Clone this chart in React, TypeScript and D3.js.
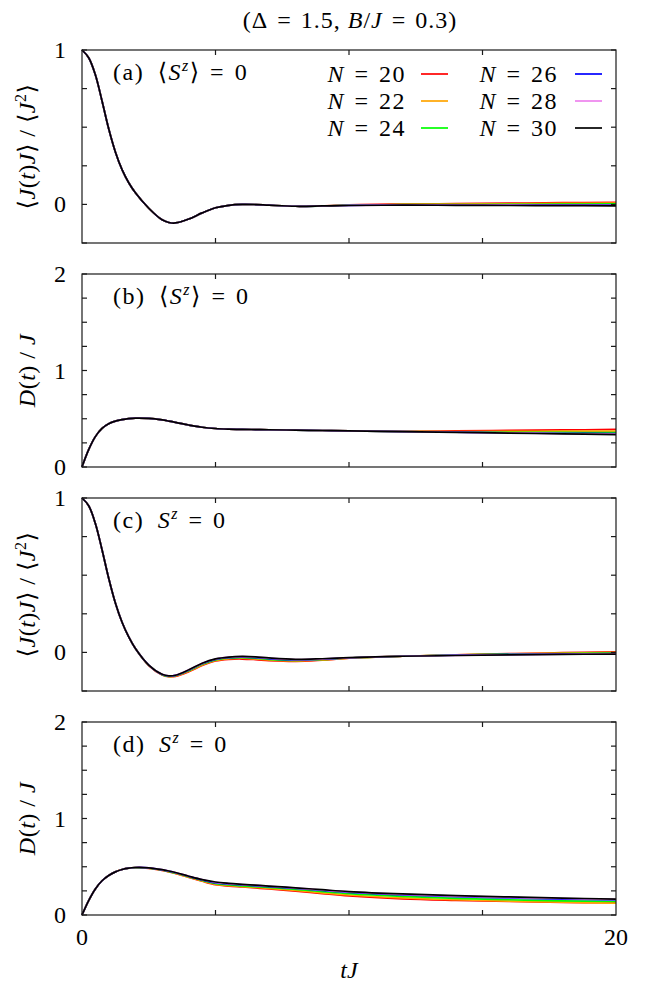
import React from 'react';
import * as d3 from 'd3';

// time grid (tJ)
const T = [0, 0.25, 0.5, 0.75, 1, 1.25, 1.5, 1.75, 2, 2.5, 3, 3.25, 3.5, 4, 4.5, 5, 5.5, 6, 6.5, 7, 8, 9, 10, 12, 14, 16, 18, 20];

const N_LABELS = ['20', '22', '24', '26', '28', '30'];
const COLORS = ['#ff0000', '#ffa500', '#00ff00', '#0000ff', '#ee82ee', '#000000'];

// panel (a): <J(t)J>/<J^2>, <S^z>=0 ; common part t=0..9, then tails t=10..20
const A_HEAD = [1, 0.95, 0.84, 0.67, 0.49, 0.34, 0.225, 0.14, 0.075, -0.025, -0.1, -0.117, -0.12, -0.095, -0.055, -0.022, -0.006, 0.0, -0.001, -0.005, -0.012, -0.01];
const A_TAIL_20 = [-0.003, 0.002, 0.005, 0.008, 0.011, 0.013];
const A_TAIL_22 = [-0.004, 0.0, 0.002, 0.004, 0.006, 0.008];
const A_TAIL_24 = [-0.005, -0.002, -0.001, 0.0, 0.002, 0.003];
const A_TAIL_26 = [-0.006, -0.003, -0.003, -0.003, -0.003, -0.003];
const A_TAIL_28 = [-0.006, -0.004, -0.005, -0.005, -0.006, -0.006];
const A_TAIL_30 = [-0.007, -0.005, -0.006, -0.007, -0.008, -0.009];

// panel (b): D(t)/J, <S^z>=0
const B_HEAD = [0, 0.18, 0.315, 0.4, 0.448, 0.475, 0.491, 0.501, 0.506, 0.503, 0.488, 0.476, 0.463, 0.435, 0.412, 0.399, 0.393, 0.39, 0.388, 0.386, 0.382, 0.378];
const B_TAIL_20 = [0.375, 0.37, 0.374, 0.379, 0.384, 0.389];
const B_TAIL_22 = [0.374, 0.368, 0.368, 0.369, 0.371, 0.372];
const B_TAIL_24 = [0.374, 0.367, 0.363, 0.36, 0.358, 0.357];
const B_TAIL_26 = [0.374, 0.367, 0.361, 0.355, 0.35, 0.346];
const B_TAIL_28 = [0.374, 0.367, 0.36, 0.353, 0.346, 0.34];
const B_TAIL_30 = [0.374, 0.367, 0.359, 0.351, 0.343, 0.335];

// panel (c): <J(t)J>/<J^2>, S^z=0
const C_20 = [1, 0.95, 0.835, 0.665, 0.48, 0.32, 0.195, 0.1, 0.025, -0.085, -0.146, -0.157, -0.155, -0.125, -0.085, -0.056, -0.045, -0.043, -0.047, -0.053, -0.058, -0.05, -0.038, -0.025, -0.016, -0.008, -0.002, 0.004];
const C_22 = [1, 0.95, 0.835, 0.665, 0.48, 0.32, 0.195, 0.1, 0.025, -0.084, -0.145, -0.156, -0.153, -0.122, -0.081, -0.052, -0.041, -0.038, -0.042, -0.049, -0.055, -0.048, -0.037, -0.025, -0.016, -0.009, -0.004, 0.0];
const C_24 = [1, 0.95, 0.835, 0.665, 0.48, 0.32, 0.195, 0.1, 0.025, -0.083, -0.144, -0.155, -0.151, -0.118, -0.077, -0.048, -0.037, -0.034, -0.038, -0.045, -0.052, -0.046, -0.036, -0.025, -0.017, -0.011, -0.007, -0.004];
const C_26 = [1, 0.95, 0.835, 0.665, 0.48, 0.32, 0.195, 0.1, 0.025, -0.082, -0.143, -0.153, -0.149, -0.115, -0.073, -0.045, -0.034, -0.031, -0.034, -0.041, -0.049, -0.044, -0.035, -0.025, -0.018, -0.013, -0.01, -0.007];
const C_28 = [1, 0.95, 0.835, 0.665, 0.48, 0.32, 0.195, 0.1, 0.025, -0.082, -0.142, -0.152, -0.148, -0.113, -0.071, -0.043, -0.032, -0.028, -0.031, -0.038, -0.047, -0.043, -0.035, -0.025, -0.019, -0.015, -0.012, -0.009];
const C_30 = [1, 0.95, 0.835, 0.665, 0.48, 0.32, 0.195, 0.1, 0.025, -0.082, -0.142, -0.152, -0.148, -0.113, -0.07, -0.042, -0.03, -0.026, -0.029, -0.036, -0.045, -0.041, -0.034, -0.025, -0.02, -0.016, -0.013, -0.011];

// panel (d): D(t)/J, S^z=0
const D_20 = [0, 0.15, 0.27, 0.355, 0.41, 0.447, 0.471, 0.485, 0.49, 0.484, 0.462, 0.447, 0.43, 0.39, 0.35, 0.315, 0.3, 0.29, 0.28, 0.27, 0.248, 0.222, 0.198, 0.168, 0.152, 0.14, 0.131, 0.127];
const D_22 = [0, 0.15, 0.27, 0.355, 0.41, 0.447, 0.471, 0.485, 0.49, 0.485, 0.464, 0.449, 0.432, 0.392, 0.353, 0.318, 0.304, 0.294, 0.285, 0.276, 0.255, 0.23, 0.207, 0.177, 0.158, 0.143, 0.133, 0.124];
const D_24 = [0, 0.15, 0.27, 0.355, 0.41, 0.447, 0.471, 0.486, 0.491, 0.486, 0.466, 0.451, 0.435, 0.396, 0.358, 0.325, 0.311, 0.302, 0.293, 0.285, 0.265, 0.243, 0.222, 0.193, 0.172, 0.158, 0.147, 0.14];
const D_26 = [0, 0.15, 0.27, 0.355, 0.41, 0.447, 0.471, 0.486, 0.492, 0.488, 0.468, 0.454, 0.438, 0.4, 0.364, 0.333, 0.32, 0.311, 0.302, 0.294, 0.275, 0.254, 0.235, 0.209, 0.19, 0.176, 0.165, 0.157];
const D_28 = [0, 0.15, 0.27, 0.355, 0.41, 0.447, 0.471, 0.486, 0.492, 0.489, 0.47, 0.456, 0.44, 0.402, 0.367, 0.338, 0.325, 0.315, 0.306, 0.298, 0.279, 0.259, 0.24, 0.214, 0.196, 0.182, 0.171, 0.161];
const D_30 = [0, 0.15, 0.27, 0.355, 0.41, 0.447, 0.471, 0.486, 0.492, 0.489, 0.47, 0.456, 0.44, 0.402, 0.367, 0.342, 0.328, 0.318, 0.309, 0.3, 0.282, 0.262, 0.243, 0.218, 0.2, 0.187, 0.175, 0.165];

const X_TICKS = [0, 5, 10, 15, 20];

const SERIES_A = [A_TAIL_20, A_TAIL_22, A_TAIL_24, A_TAIL_26, A_TAIL_28, A_TAIL_30].map((t) => [...A_HEAD, ...t]);
const SERIES_B = [B_TAIL_20, B_TAIL_22, B_TAIL_24, B_TAIL_26, B_TAIL_28, B_TAIL_30].map((t) => [...B_HEAD, ...t]);
const SERIES_C = [C_20, C_22, C_24, C_26, C_28, C_30];
const SERIES_D = [D_20, D_22, D_24, D_26, D_28, D_30];

const FONT = '"Liberation Serif", "DejaVu Serif", serif';
const FS = 24;
const EQ = '\u2004=\u2004';
const LEFT = 82;
const RIGHT = 616;
const PANEL_H = 193;
const TOPS = [50, 274, 498, 722];

const x = d3.scaleLinear().domain([0, 20]).range([LEFT, RIGHT]);

type PanelDef = {
  series: number[][];
  domain: [number, number];
  labels: number[];
  kind: 'J' | 'D';
  tag: string;
  avg: boolean;
};

const PANELS: PanelDef[] = [
  { series: SERIES_A, domain: [-0.25, 1], labels: [0, 1], kind: 'J', tag: '(a)', avg: true },
  { series: SERIES_B, domain: [0, 2], labels: [0, 1, 2], kind: 'D', tag: '(b)', avg: true },
  { series: SERIES_C, domain: [-0.25, 1], labels: [0, 1], kind: 'J', tag: '(c)', avg: false },
  { series: SERIES_D, domain: [0, 2], labels: [0, 1, 2], kind: 'D', tag: '(d)', avg: false },
];

function Panel({ def, top, last }: { def: PanelDef; top: number; last: boolean }) {
  const bottom = top + PANEL_H;
  const y = d3.scaleLinear().domain(def.domain).range([bottom, top]);
  const line = d3
    .line<number>()
    .x((_, i) => x(T[i]))
    .y((d) => y(d))
    .curve(d3.curveCatmullRom.alpha(0.5));
  const yMinor = d3.range(def.domain[0], def.domain[1] + 1e-9, 0.25);
  const cy = (top + bottom) / 2;
  const tick = 5;
  return (
    <g>
      {def.series.map((s, i) => (
        <path key={i} d={line(s) || ''} fill="none" stroke={COLORS[i]} strokeWidth={1.7} strokeLinejoin="round" />
      ))}
      <rect x={LEFT} y={top} width={RIGHT - LEFT} height={PANEL_H} fill="none" stroke="#1a1a1a" strokeWidth={1.2} />
      {X_TICKS.slice(1, -1).map((t) => (
        <g key={t}>
          <line x1={x(t)} x2={x(t)} y1={bottom} y2={bottom - tick} stroke="#1a1a1a" strokeWidth={1.2} />
          <line x1={x(t)} x2={x(t)} y1={top} y2={top + tick} stroke="#1a1a1a" strokeWidth={1.2} />
        </g>
      ))}
      {yMinor.map((v) => (
        <g key={v}>
          <line x1={LEFT} x2={LEFT + tick} y1={y(v)} y2={y(v)} stroke="#1a1a1a" strokeWidth={1.2} />
          <line x1={RIGHT} x2={RIGHT - tick} y1={y(v)} y2={y(v)} stroke="#1a1a1a" strokeWidth={1.2} />
        </g>
      ))}
      {def.labels.map((v) => (
        <text key={v} x={66} y={y(v) + 8} textAnchor="end" fontSize={FS} fontFamily={FONT}>
          {v}
        </text>
      ))}
      {last &&
        [0, 20].map((t) => (
          <text key={t} x={x(t)} y={945} textAnchor="middle" fontSize={FS} fontFamily={FONT}>
            {t}
          </text>
        ))}
      <text transform={`translate(35,${cy}) rotate(-90)`} textAnchor="middle" fontSize={FS} fontFamily={FONT} letterSpacing={0.5}>
        {def.kind === 'J' ? (
          <>
            <tspan>⟨</tspan>
            <tspan fontStyle="italic">J</tspan>
            <tspan>(</tspan>
            <tspan fontStyle="italic">t</tspan>
            <tspan>)</tspan>
            <tspan fontStyle="italic">J</tspan>
            <tspan>⟩ / ⟨</tspan>
            <tspan fontStyle="italic">J</tspan>
            <tspan dy={-9} fontSize={16}>2</tspan>
            <tspan dy={9}>⟩</tspan>
          </>
        ) : (
          <>
            <tspan fontStyle="italic">D</tspan>
            <tspan>(</tspan>
            <tspan fontStyle="italic">t</tspan>
            <tspan>) / </tspan>
            <tspan fontStyle="italic">J</tspan>
          </>
        )}
      </text>
      <text x={113} y={top + 30} fontSize={FS} fontFamily={FONT} letterSpacing={1.5}>
        <tspan>{def.tag + '\u2002'}</tspan>
        {def.avg ? <tspan>⟨</tspan> : null}
        <tspan fontStyle="italic">S</tspan>
        <tspan dy={-9} fontSize={16} fontStyle="italic">z</tspan>
        <tspan dy={9}>{def.avg ? '⟩' + EQ + '0' : EQ + '0'}</tspan>
      </text>
    </g>
  );
}

function Legend() {
  const rows = [74, 101, 128];
  const cols = [
    { textEnd: 406, l1: 421, l2: 448 },
    { textEnd: 558, l1: 575, l2: 602 },
  ];
  return (
    <g>
      {N_LABELS.map((n, i) => {
        const c = cols[Math.floor(i / 3)];
        const ry = rows[i % 3];
        return (
          <g key={n}>
            <text x={c.textEnd} y={ry + 8} textAnchor="end" fontSize={FS} fontFamily={FONT} letterSpacing={1.5}>
              <tspan fontStyle="italic">N</tspan>
              <tspan>{EQ + n}</tspan>
            </text>
            <line x1={c.l1} x2={c.l2} y1={ry} y2={ry} stroke={COLORS[i]} strokeWidth={1.7} />
          </g>
        );
      })}
    </g>
  );
}

export default function App() {
  return (
    <svg width={664} height={994} style={{ position: 'absolute', left: 0, top: 0, background: '#fff' }}>
      <rect x={0} y={0} width={664} height={994} fill="#fff" />
      <text x={350} y={28} textAnchor="middle" fontSize={24} fontFamily={FONT} letterSpacing={1}>
        <tspan>{'(Δ' + EQ + '1.5, '}</tspan>
        <tspan fontStyle="italic">B</tspan>
        <tspan>/</tspan>
        <tspan fontStyle="italic">J</tspan>
        <tspan>{EQ + '0.3)'}</tspan>
      </text>
      {PANELS.map((p, i) => (
        <Panel key={i} def={p} top={TOPS[i]} last={i === 3} />
      ))}
      <Legend />
      <text x={349} y={978} textAnchor="middle" fontSize={FS} fontFamily={FONT}>
        <tspan fontStyle="italic">t</tspan>
        <tspan fontStyle="italic">J</tspan>
      </text>
    </svg>
  );
}
